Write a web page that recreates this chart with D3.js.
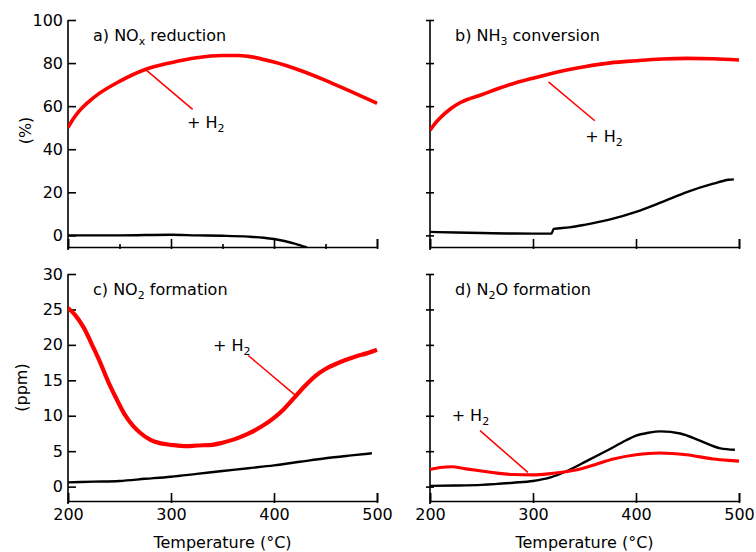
<!DOCTYPE html>
<meta charset="utf-8">
<style>
  body {
    margin: 0;
    background: #fff;
    font-family: "DejaVu Sans", Verdana, sans-serif;
    font-size: 16px;
  }
  .axis path, .axis line {
    stroke: #000;
    stroke-width: 1.6;
  }
  .axis text {
    fill: #000;
  }
</style>
<body>
<script src="https://d3js.org/d3.v7.min.js"></script>
<script>

var width = 756,
    height = 552;

// a) NOx reduction, %  [temperature, value]
var noxWithH2 = [[200,50],[205,54],[210,57.2],[220,62],[230,65.8],[250,71.5],[275,77],[300,80.2],[325,82.5],[350,83.5],[365,83.5],[375,83.1],[400,80.5],[425,76.7],[450,72],[475,66.7],[500,61.3]];
var noxNoH2 = [[200,0],[250,0],[300,0.3],[325,0],[350,-0.2],[375,-0.6],[390,-1.1],[400,-1.7],[410,-2.6],[420,-3.8],[432,-5.6]];

// b) NH3 conversion, %
var nh3WithH2 = [[200,48.8],[205,52],[210,54.6],[220,58.8],[230,61.8],[250,65.3],[275,69.6],[300,73],[325,76],[350,78.3],[375,80.1],[400,81.1],[425,81.9],[450,82.2],[475,82],[500,81.4]];
var nh3NoH2 = [[200,1.6],[225,1.3],[250,1.1],[275,0.9],[300,0.8],[318,0.8],[320,3],[335,3.7],[350,4.9],[375,7.4],[400,10.9],[425,15.4],[450,20.2],[475,24],[490,25.8],[495,26]];

// c) NO2 formation, ppm
var no2WithH2 = [[200,25.2],[207,24.2],[215,22.5],[225,19.5],[231,17.6],[240,14.5],[247,12.4],[255,10.2],[263,8.6],[270,7.6],[280,6.6],[290,6.1],[300,5.9],[315,5.7],[325,5.8],[340,5.9],[350,6.2],[362,6.7],[374,7.4],[387,8.4],[400,9.7],[410,11],[420,12.6],[430,14.2],[440,15.6],[450,16.6],[460,17.3],[470,17.9],[480,18.4],[490,18.8],[500,19.3]];
var no2NoH2 = [[200,0.6],[225,0.7],[250,0.8],[275,1.1],[300,1.4],[325,1.8],[350,2.2],[375,2.6],[400,3],[425,3.5],[450,4],[475,4.4],[495,4.7]];

// d) N2O formation, ppm
var n2oWithH2 = [[200,2.4],[210,2.7],[221,2.8],[235,2.5],[250,2.2],[265,1.9],[281,1.7],[300,1.65],[315,1.8],[326,2],[346,2.5],[360,3.1],[378,3.9],[400,4.5],[423,4.75],[449,4.5],[475,3.9],[490,3.7],[500,3.6]];
var n2oNoH2 = [[200,0.1],[225,0.15],[250,0.25],[281,0.55],[300,0.8],[317,1.3],[333,2.2],[352,3.6],[372,5.1],[390,6.5],[400,7.2],[412,7.6],[424,7.8],[443,7.5],[462,6.5],[482,5.4],[496,5.2]];

var tempTicks = [200, 300, 400, 500];
var tempMinorTicks = [250, 350, 450];
var pctTicks = [0, 20, 40, 60, 80, 100];
var ppmTicks = [0, 5, 10, 15, 20, 25, 30];

var cols = [68, 430],
    rows = [20, 274],
    pw = 309,
    ph = 227;

var panels = [
  { id: "a", col: 0, row: 0, title: [["a) NO"], ["x", 1], [" reduction"]], y: [-5.4, 100], ticks: pctTicks, labels: true, minor: true,
    red: noxWithH2, black: noxNoH2, redWidth: 3.6, note: { from: [276, 76.7], to: [321, 58.5], at: [315.5, 52] } },
  { id: "b", col: 1, row: 0, title: [["b) NH"], ["3", 1], [" conversion"]], y: [-5.4, 100], ticks: pctTicks, labels: false,
    red: nh3WithH2, black: nh3NoH2, redWidth: 3.6, note: { from: [315, 71.3], to: [360, 53.2], at: [350.7, 45.7] } },
  { id: "c", col: 0, row: 1, title: [["c) NO"], ["2", 1], [" formation"]], y: [-2.03, 30], ticks: ppmTicks, labels: true,
    red: no2WithH2, black: no2NoH2, redWidth: 4.2, note: { from: [375, 18.5], to: [420.6, 12.9], at: [340.8, 19.9] } },
  { id: "d", col: 1, row: 1, title: [["d) N"], ["2", 1], ["O formation"]], y: [-2.03, 30], ticks: ppmTicks, labels: false,
    red: n2oWithH2, black: n2oNoH2, redWidth: 3.1, note: { from: [248.6, 7.9], to: [295, 2.0], at: [221, 10] } }
];

var svg = d3.select("body").append("svg")
    .attr("width", width)
    .attr("height", height);

// text with subscript pieces
function richText(sel, parts) {
  parts.forEach(function(p) {
    var t = sel.append("tspan").text(p[0]);
    if (p[1]) t.attr("font-size", 11).attr("dy", 4);
    else if (sel.selectAll("tspan").size() > 1) t.attr("dy", -4);
  });
}

panels.forEach(function(p) {
  var x0 = cols[p.col], y0 = rows[p.row];
  var x = d3.scaleLinear().domain([200, 500]).range([0, pw]);
  var y = d3.scaleLinear().domain(p.y).range([ph, 0]);

  var g = svg.append("g").attr("transform", "translate(" + x0 + "," + y0 + ")");

  g.append("clipPath").attr("id", "clip-" + p.id)
    .append("rect").attr("x", 0).attr("y", -3).attr("width", pw + 3).attr("height", ph + 3);

  // y axis
  var yAxis = d3.axisLeft(y).tickValues(p.ticks).tickSizeOuter(0).tickSize(-8).tickPadding(5)
      .tickFormat(p.labels ? d3.format("d") : "");
  var ya = g.append("g").attr("class", "axis").call(yAxis)
      .attr("font-family", null).attr("font-size", null);
  if (!p.labels) ya.selectAll(".tick line").attr("x1", -4).attr("x2", 4);
  ya.select(".domain").attr("d", "M0," + y(p.y[1]) + "V" + (ph + 3));

  // x axis
  var xTicks = p.minor ? tempTicks.concat(tempMinorTicks) : tempTicks;
  var xAxis = d3.axisBottom(x).tickValues(xTicks).tickSizeOuter(0).tickSize(-8).tickPadding(8)
      .tickFormat(p.row === 1 ? d3.format("d") : "");
  var xa = g.append("g").attr("class", "axis")
      .attr("transform", "translate(0," + ph + ")")
      .call(xAxis)
      .attr("font-family", null).attr("font-size", null);
  xa.selectAll(".tick line").attr("y1", 2);
  xa.selectAll(".tick").filter(function(d) { return tempMinorTicks.indexOf(d) >= 0; })
      .select("line").attr("y1", 2).attr("y2", -3);

  var line = d3.line()
      .curve(d3.curveMonotoneX)
      .x(function(d) { return x(d[0]); })
      .y(function(d) { return y(d[1]); });

  var plot = g.append("g").attr("clip-path", "url(#clip-" + p.id + ")");
  plot.append("path").datum(p.black)
      .attr("fill", "none").attr("stroke", "#000").attr("stroke-width", 2.4)
      .attr("d", line);
  plot.append("path").datum(p.red)
      .attr("fill", "none").attr("stroke", "#f00").attr("stroke-width", p.redWidth)
      .attr("d", line);

  // annotation "+ H2"
  g.append("line")
      .attr("x1", x(p.note.from[0])).attr("y1", y(p.note.from[1]))
      .attr("x2", x(p.note.to[0])).attr("y2", y(p.note.to[1]))
      .attr("stroke", "#f00").attr("stroke-width", 1.5);
  var lab = g.append("text")
      .attr("x", x(p.note.at[0])).attr("y", y(p.note.at[1]) + 5);
  richText(lab, [["+ H"], ["2", 1]]);

  // panel title
  var title = g.append("text").attr("x", 25).attr("y", 21);
  richText(title, p.title);

  if (p.row === 1) {
    g.append("text")
        .attr("x", pw / 2).attr("y", ph + 47)
        .attr("text-anchor", "middle")
        .text("Temperature (\u00b0C)");
  }
});

svg.append("text")
    .attr("transform", "translate(25," + (rows[0] + ph / 2 - 3) + ")rotate(-90)")
    .attr("text-anchor", "middle").attr("dy", "0.35em")
    .text("(%)");

svg.append("text")
    .attr("transform", "translate(21," + (rows[1] + ph / 2) + ")rotate(-90)")
    .attr("text-anchor", "middle").attr("dy", "0.35em")
    .text("(ppm)");

</script>
</body>
